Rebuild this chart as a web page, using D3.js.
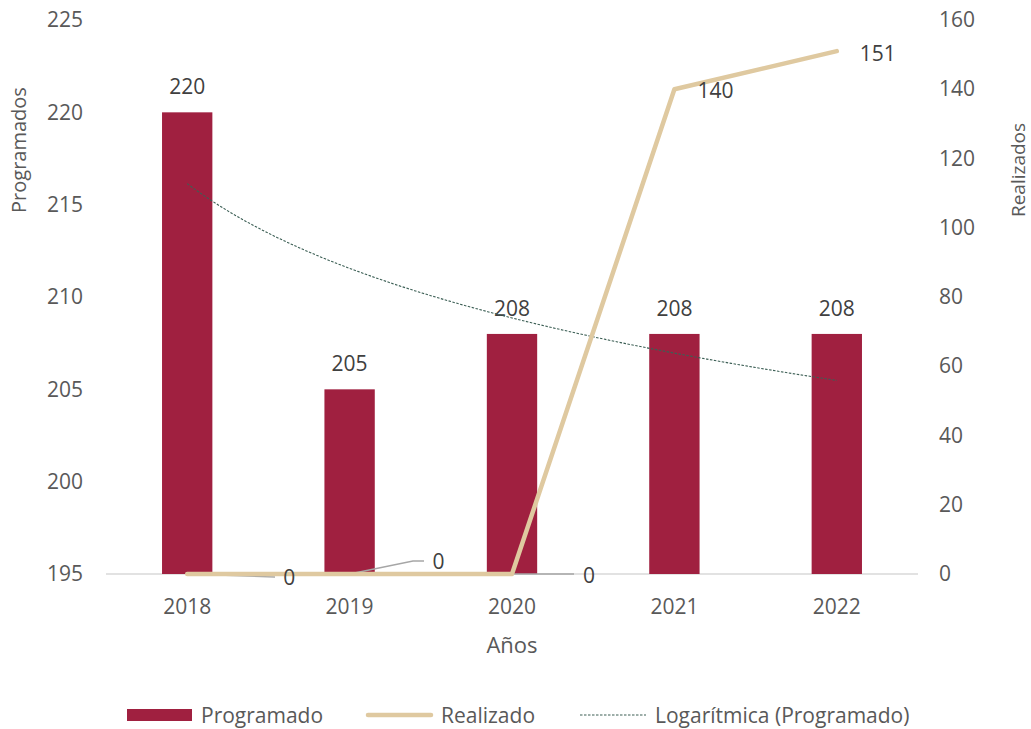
<!DOCTYPE html>
<html>
<head>
<meta charset="utf-8">
<script src="https://cdn.jsdelivr.net/npm/d3@7"></script>
<style>
  body { margin: 0; background: #fff; }
  text { font-family: 'Open Sans', sans-serif; }
</style>
</head>
<body>
<script>
// data
var years = ["2018", "2019", "2020", "2021", "2022"];
var programado = [220, 205, 208, 208, 208];
var realizado = [0, 0, 0, 140, 151];
var leftTicks = [195, 200, 205, 210, 215, 220, 225];
var rightTicks = [0, 20, 40, 60, 80, 100, 120, 140, 160];

var w = 1031, h = 729;
var mLeft = 106, mRight = 918, mTop = 20, mBottom = 574;
var fs = 21;

var svg = d3.select("body").append("svg")
    .attr("width", w)
    .attr("height", h);

var x = d3.scaleBand()
    .domain(years)
    .range([mLeft, mRight])
    .paddingInner(0.69)
    .paddingOuter(0.345);
var xc = function (d) { return x(d) + x.bandwidth() / 2; };

var yL = d3.scaleLinear().domain([195, 225]).range([mBottom, mTop]);
var yR = d3.scaleLinear().domain([0, 160]).range([mBottom, mTop]);

// baseline
svg.append("line")
    .attr("x1", mLeft).attr("x2", mRight)
    .attr("y1", mBottom).attr("y2", mBottom)
    .attr("stroke", "#d9d9d9").attr("stroke-width", 1.3);

// left axis
var axL = svg.append("g")
    .attr("transform", "translate(" + 83 + ",0)")
    .call(d3.axisLeft(yL).tickValues(leftTicks).tickSize(0).tickPadding(0));
axL.select(".domain").remove();
axL.selectAll("text").attr("font-size", fs).attr("fill", "#595959")
    .attr("font-family", "'Open Sans', sans-serif");

// right axis
var axR = svg.append("g")
    .attr("transform", "translate(" + 939 + ",0)")
    .call(d3.axisRight(yR).tickValues(rightTicks).tickSize(0).tickPadding(0));
axR.select(".domain").remove();
axR.selectAll("text").attr("font-size", fs).attr("fill", "#595959")
    .attr("font-family", "'Open Sans', sans-serif");

// x axis labels
var axX = svg.append("g")
    .attr("transform", "translate(0," + 599 + ")")
    .call(d3.axisBottom(x).tickSize(0).tickPadding(0));
axX.select(".domain").remove();
axX.selectAll("text").attr("font-size", fs).attr("fill", "#595959")
    .attr("font-family", "'Open Sans', sans-serif");

// bars
svg.selectAll("rect.bar")
    .data(years)
    .enter()
    .append("rect")
    .attr("class", "bar")
    .attr("x", function (d) { return x(d); })
    .attr("y", function (d, i) { return yL(programado[i]); })
    .attr("width", x.bandwidth())
    .attr("height", function (d, i) { return mBottom - yL(programado[i]); })
    .attr("fill", "#a02040");

// bar labels
svg.selectAll("text.blab")
    .data(years)
    .enter()
    .append("text")
    .attr("class", "blab")
    .attr("x", function (d) { return xc(d); })
    .attr("y", function (d, i) { return yL(programado[i]) - 18; })
    .attr("text-anchor", "middle")
    .attr("font-size", fs)
    .attr("fill", "#404040")
    .text(function (d, i) { return programado[i]; });

// logarithmic trendline fitted to programado (y = a + b ln x)
var lx = programado.map(function (d, i) { return Math.log(i + 1); });
var mx = d3.mean(lx), my = d3.mean(programado);
var sxy = d3.sum(lx, function (v, i) { return (v - mx) * (programado[i] - my); });
var sxx = d3.sum(lx, function (v) { return (v - mx) * (v - mx); });
var b = sxy / sxx, a = my - b * mx;
var step = x.step();
var trend = d3.range(0, 4.001, 0.05).map(function (t) {
    return [xc(years[0]) + t * step, a + b * Math.log(t + 1)];
});
svg.append("path")
    .datum(trend)
    .attr("d", d3.line().x(function (d) { return d[0]; }).y(function (d) { return yL(d[1]); }))
    .attr("fill", "none")
    .attr("stroke", "#3c5f55")
    .attr("stroke-width", 1.1)
    .attr("stroke-dasharray", "2.5,1.5");

// leader lines for the zero labels
var leaders = [
    [[xc("2018"), 574], [275, 577]],
    [[xc("2019"), 574], [413, 561], [424, 561]],
    [[xc("2020"), 574], [574, 574]]
];
svg.selectAll("path.leader")
    .data(leaders)
    .enter()
    .append("path")
    .attr("class", "leader")
    .attr("d", d3.line())
    .attr("fill", "none")
    .attr("stroke", "#a6a6a6")
    .attr("stroke-width", 1.3);

// realizado line
svg.append("path")
    .datum(realizado)
    .attr("d", d3.line()
        .x(function (d, i) { return xc(years[i]); })
        .y(function (d) { return yR(d); }))
    .attr("fill", "none")
    .attr("stroke", "#dfc9a0")
    .attr("stroke-width", 4.5)
    .attr("stroke-linecap", "round")
    .attr("stroke-linejoin", "round");

// realizado labels
var rOff = [[102, 4], [89, -12], [77, 2], [41, 1], [41, 2]];
svg.selectAll("text.rlab")
    .data(realizado)
    .enter()
    .append("text")
    .attr("class", "rlab")
    .attr("x", function (d, i) { return xc(years[i]) + rOff[i][0]; })
    .attr("y", function (d, i) { return yR(d) + rOff[i][1]; })
    .attr("text-anchor", "middle")
    .attr("dy", "0.35em")
    .attr("font-size", fs)
    .attr("fill", "#404040")
    .text(function (d) { return d; });

// axis titles
svg.append("text")
    .attr("transform", "translate(26,150) rotate(-90)")
    .attr("text-anchor", "middle")
    .attr("font-size", 20)
    .attr("fill", "#595959")
    .text("Programados");

svg.append("text")
    .attr("transform", "translate(1025,170) rotate(-90)")
    .attr("text-anchor", "middle")
    .attr("font-size", 19)
    .attr("fill", "#595959")
    .text("Realizados");

svg.append("text")
    .attr("x", 512).attr("y", 653)
    .attr("text-anchor", "middle")
    .attr("font-size", 22)
    .attr("fill", "#595959")
    .text("Años");

// legend
var lg = svg.append("g").attr("font-size", fs).attr("fill", "#595959");
lg.append("rect").attr("x", 127).attr("y", 709).attr("width", 65).attr("height", 12).attr("fill", "#a02040");
lg.append("text").attr("x", 201).attr("y", 723).text("Programado");
lg.append("line").attr("x1", 368).attr("x2", 431).attr("y1", 715).attr("y2", 715)
    .attr("stroke", "#dfc9a0").attr("stroke-width", 4.5).attr("stroke-linecap", "round");
lg.append("text").attr("x", 441).attr("y", 723).text("Realizado");
lg.append("line").attr("x1", 580).attr("x2", 646).attr("y1", 715).attr("y2", 715)
    .attr("stroke", "#3c5f55").attr("stroke-width", 1.1).attr("stroke-dasharray", "2.5,1.5");
lg.append("text").attr("x", 655).attr("y", 723).text("Logarítmica (Programado)");
</script>
</body>
</html>
